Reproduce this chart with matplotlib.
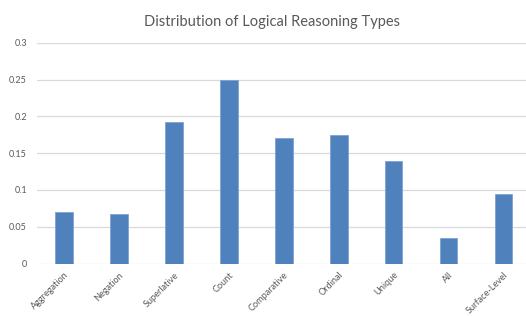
import matplotlib as mpl
mpl.use('Agg')
import matplotlib.pyplot as plt

categories = ['Aggregation', 'Negation', 'Superlative', 'Count', 'Comparative',
              'Ordinal', 'Unique', 'All', 'Surface-Level']
shares = [0.070, 0.067, 0.193, 0.250, 0.170, 0.175, 0.140, 0.035, 0.094]
yticks = [0, 0.05, 0.1, 0.15, 0.2, 0.25, 0.3]
ytick_labels = ['0', '0.05', '0.1', '0.15', '0.2', '0.25', '0.3']

text_color = '#595959'
grid_color = '#D9D9D9'
bar_color = '#4F81BD'

plt.rcParams['font.family'] = ['Lato', 'DejaVu Sans']

fig = plt.figure(figsize=(5.26, 3.16), dpi=100)
# axes runs a little past the right edge, like the cropped original
ax = fig.add_axes([36.6 / 526, 52.5 / 316, 494.4 / 526, 220.7 / 316])

x = range(len(categories))
ax.bar(x, shares, width=0.32, color=bar_color, edgecolor='#7FA3D3',
       linewidth=0.6, zorder=3)

ax.set_xlim(-0.5, len(categories) - 0.5)
ax.set_ylim(0, 0.3)
ax.set_yticks(yticks)
ax.set_yticklabels(ytick_labels)
ax.set_xticks(list(x))
ax.set_xticklabels(categories, rotation=45, ha='right', rotation_mode='anchor')

ax.tick_params(axis='y', length=0, pad=7, labelsize=6.5, labelcolor=text_color)
ax.tick_params(axis='x', length=0, pad=5, labelsize=6.6, labelcolor=text_color)
ax.grid(axis='y', color=grid_color, linewidth=0.9, zorder=0)
for s in ax.spines.values():
    s.set_visible(False)

fig.text(271.5 / 526, 1 - 22 / 316, 'Distribution of Logical Reasoning Types',
         ha='center', va='center', fontsize=10.5, color=text_color)

fig.savefig('out.png', dpi=100)
